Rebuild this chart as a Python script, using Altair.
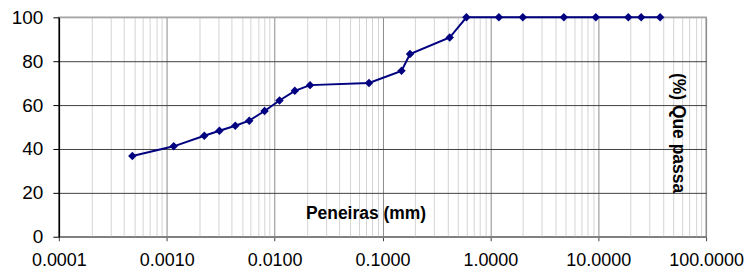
import altair as alt
import pandas as pd

# Sieve sizes (mm) and percent passing
diam_mm = [0.00048, 0.00116, 0.00223, 0.00308, 0.00432, 0.00582, 0.00807, 0.0111,
           0.0154, 0.0213, 0.075, 0.15, 0.18, 0.42, 0.6, 1.2, 2.0, 4.8, 9.5, 19.0,
           25.0, 37.5]
passing = [36.8, 41.2, 46.0, 48.3, 50.6, 52.9, 57.3, 62.1, 66.5, 69.1, 70.1, 75.6,
           83.3, 90.8, 100, 100, 100, 100, 100, 100, 100, 100]

x_title = "Peneiras (mm)"
y_title = "(%) Que passa"
y_ticks = [0, 20, 40, 60, 80, 100]
decades = [0.0001, 0.001, 0.01, 0.1, 1, 10, 100]
x_ticks = [d * m for d in decades[:-1] for m in range(1, 10)] + [decades[-1]]

df = pd.DataFrame({"d": diam_mm, "p": passing})

is_decade = "abs(log(datum.value)/LN10 - round(log(datum.value)/LN10)) < 0.001"
FONT = "Liberation Sans"

x_enc = alt.X(
    "d:Q",
    scale=alt.Scale(type="log", domain=[0.0001, 100], nice=False),
    axis=alt.Axis(
        values=x_ticks,
        title=None,
        labelExpr=f"({is_decade}) ? format(datum.value, '.4f') : ''",
        labelFont=FONT,
        labelFontSize=18,
        labelColor="#000000",
        labelPadding=11,
        labelOverlap=False,
        labelFlush=False,
        tickSize=4,
        tickColor={"condition": {"test": is_decade, "value": "#404040"}, "value": "transparent"},
        gridColor={"condition": {"test": is_decade, "value": "#8c8c8c"}, "value": "#d4d4d4"},
        gridWidth=1,
        domainColor="#808080",
        domainWidth=1.5,
    ),
)
y_enc = alt.Y(
    "p:Q",
    scale=alt.Scale(domain=[0, 100], nice=False),
    axis=alt.Axis(
        values=y_ticks,
        title=None,
        labelFont=FONT,
        labelFontSize=19,
        labelColor="#000000",
        labelPadding=10,
        tickSize=6,
        tickColor="#000000",
        domainColor="#000000",
        domainWidth=1.5,
        gridColor={"condition": {"test": "datum.value == 100", "value": "#a8a8a8"}, "value": "#404040"},
        gridWidth=1,
    ),
)

line = alt.Chart(df).mark_line(color="#000080", strokeWidth=2).encode(x=x_enc, y=y_enc)
pts = alt.Chart(df).mark_point(shape="diamond", filled=True, color="#000080", size=72, opacity=1).encode(
    x=alt.X("d:Q"), y=alt.Y("p:Q")
)

xt = alt.Chart(pd.DataFrame({"t": [x_title]})).mark_text(
    font=FONT, fontSize=17.5, fontWeight="bold", color="#000000", align="center", baseline="alphabetic"
).encode(text="t:N", x=alt.value(308), y=alt.value(202))

yt = alt.Chart(pd.DataFrame({"t": [y_title]})).mark_text(
    font=FONT, fontSize=17.5, fontWeight="bold", color="#000000", align="center", baseline="middle", angle=90
).encode(text="t:N", x=alt.value(621), y=alt.value(116))

chart = alt.layer(line, pts, xt, yt).properties(
    width=649,
    height=220,
    autosize=alt.AutoSizeParams(type="none"),
    padding={"left": 51, "top": 9, "right": 38, "bottom": 33},
    background="#ffffff",
).configure_view(stroke="#a0a0a0", strokeWidth=1.5)

chart.save("out.html", embed_options={"renderer": "svg", "actions": False})
